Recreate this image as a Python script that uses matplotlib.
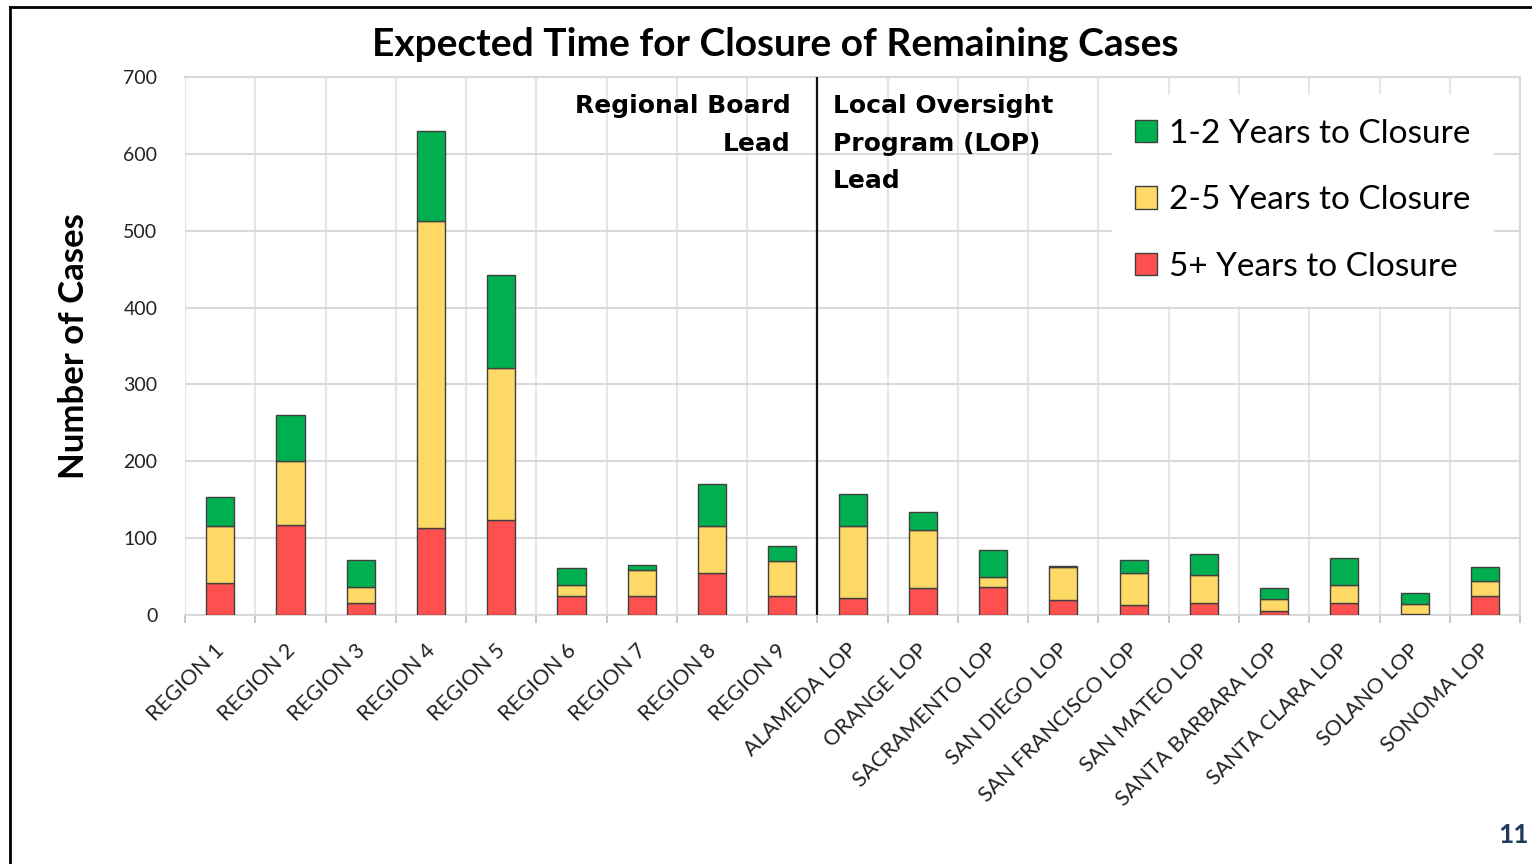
import matplotlib.pyplot as plt
from matplotlib.lines import Line2D
import matplotlib.transforms as mtransforms
import numpy as np

plt.rcParams['font.family'] = ['Lato', 'DejaVu Sans']

# data
categories = ["REGION 1", "REGION 2", "REGION 3", "REGION 4", "REGION 5",
              "REGION 6", "REGION 7", "REGION 8", "REGION 9",
              "ALAMEDA LOP", "ORANGE LOP", "SACRAMENTO LOP", "SAN DIEGO LOP",
              "SAN FRANCISCO LOP", "SAN MATEO LOP", "SANTA BARBARA LOP",
              "SANTA CLARA LOP", "SOLANO LOP", "SONOMA LOP"]
five_plus = [41, 117, 16, 113, 124, 25, 25, 55, 25,
             22, 35, 36, 19, 13, 15, 5, 16, 1, 25]
two_five = [75, 83, 21, 399, 197, 14, 34, 61, 45,
            94, 75, 13, 43, 42, 37, 16, 23, 13, 19]
one_two = [38, 60, 35, 118, 121, 22, 6, 54, 20,
           41, 24, 35, 2, 17, 27, 14, 35, 14, 19]

green = "#00B050"
yellow = "#FFD966"
red = "#FF5050"

fig = plt.figure(figsize=(15.32, 8.64), dpi=100)
ax = fig.add_axes([0.1208, 0.2882, 0.8714, 0.6227])

x = np.arange(len(categories))
w = 0.4
ek = dict(edgecolor="#404040", linewidth=1.0, zorder=3)
b1 = ax.bar(x, five_plus, w, color=red, label="5+ Years to Closure", **ek)
b2 = ax.bar(x, two_five, w, bottom=five_plus, color=yellow,
            label="2-5 Years to Closure", **ek)
bottom2 = np.array(five_plus) + np.array(two_five)
b3 = ax.bar(x, one_two, w, bottom=bottom2, color=green,
            label="1-2 Years to Closure", **ek)

ax.set_xlim(-0.5, len(categories) - 0.5)
ax.set_ylim(0, 700)
ax.set_yticks(range(0, 701, 100))
ax.tick_params(axis="y", length=0, labelsize=14, pad=20, labelcolor="#222222")

ax.set_xticks(x)
ax.set_xticklabels(categories, rotation=45, ha="right", rotation_mode="anchor",
                   fontsize=15.5, color="#222222")
ax.tick_params(axis="x", length=0, pad=18)
shift = mtransforms.ScaledTranslation(-0.06, 0, fig.dpi_scale_trans)
for lbl in ax.get_xticklabels():
    lbl.set_transform(lbl.get_transform() + shift)
ax.set_xticks(np.arange(-0.5, len(categories)), minor=True)
ax.tick_params(axis="x", which="minor", length=6, color="#bfbfbf", width=1.2)

ax.grid(axis="y", color="#d9d9d9", linewidth=1.5, zorder=0)
ax.grid(axis="x", which="minor", color="#e6e6e6", linewidth=1.5, zorder=0)
ax.set_axisbelow(True)
ax.spines["left"].set_visible(False)
for s in ["top", "right", "bottom"]:
    ax.spines[s].set_color("#d9d9d9")
    ax.spines[s].set_linewidth(1.5)

ax.axvline(8.5, color="#111111", linewidth=1.6, zorder=4)

ax.text(8.12, 678, "Regional Board\nLead", ha="right", va="top",
        fontsize=18, fontweight="bold", linespacing=1.72, zorder=5,
        family="DejaVu Sans")
ax.text(8.72, 678, "Local Oversight\nProgram (LOP)\nLead", ha="left", va="top",
        fontsize=18, fontweight="bold", linespacing=1.72, zorder=5,
        family="DejaVu Sans")

ax.set_ylabel("Number of Cases", fontsize=25, fontweight="bold", labelpad=24)

leg = ax.legend(handles=[b3, b2, b1], loc="upper right",
                bbox_to_anchor=(0.98, 0.966), fontsize=24, frameon=True,
                fancybox=False, framealpha=1, edgecolor="white",
                facecolor="white", handlelength=0.65, handleheight=0.65,
                handletextpad=0.35, labelspacing=1.1, borderpad=0.7,
                borderaxespad=0)
leg.set_zorder(6)

fig.text(0.506, 0.948, "Expected Time for Closure of Remaining Cases",
         ha="center", va="center", fontsize=28, fontweight="bold")
fig.text(0.998, 0.033, "11", ha="right", va="center", fontsize=19,
         fontweight="bold", color="#1f3864")

# slide frame (left and top edges)
fig.add_artist(Line2D([0.0068, 0.0068], [0, 0.992], transform=fig.transFigure,
                      color="black", linewidth=2))
fig.add_artist(Line2D([0.0068, 1.0], [0.992, 0.992], transform=fig.transFigure,
                      color="black", linewidth=2))

fig.savefig("out.png", dpi=100)
